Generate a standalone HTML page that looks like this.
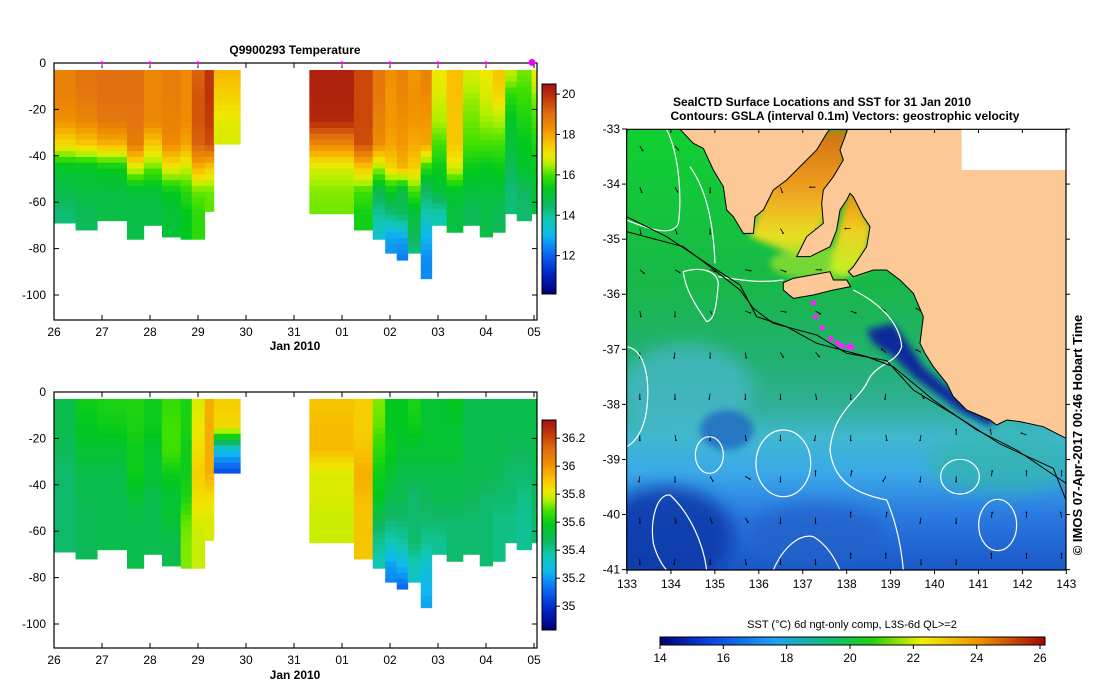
<!DOCTYPE html>
<html><head><meta charset="utf-8">
<style>
html,body{margin:0;padding:0;background:#fff;}
svg{display:block;font-family:"Liberation Sans",sans-serif;}
</style></head>
<body>
<svg id="root" width="1099" height="700" viewBox="0 0 1099 700" xmlns="http://www.w3.org/2000/svg">
<defs>
  <linearGradient id="cbV" x1="0" y1="1" x2="0" y2="0"></linearGradient>
  <linearGradient id="cbH" x1="0" y1="0" x2="1" y2="0">
    <stop offset="0" stop-color="#000070"/><stop offset="0.12" stop-color="#0a40e0"/>
    <stop offset="0.3" stop-color="#20a0f0"/><stop offset="0.45" stop-color="#10c070"/>
    <stop offset="0.55" stop-color="#20d010"/><stop offset="0.68" stop-color="#f0f000"/>
    <stop offset="0.83" stop-color="#f09000"/><stop offset="1" stop-color="#a00808"/>
  </linearGradient>
  <linearGradient id="sstBase" x1="0" y1="118" x2="0" y2="1440" gradientUnits="userSpaceOnUse">
    <stop offset="0" stop-color="#10d030"/><stop offset="0.35" stop-color="#18b848"/>
    <stop offset="0.52" stop-color="#22b070"/><stop offset="0.63" stop-color="#30b098"/>
    <stop offset="0.7" stop-color="#40b8d0"/><stop offset="0.78" stop-color="#3aa8e8"/>
    <stop offset="0.88" stop-color="#2a78e0"/><stop offset="1" stop-color="#1a58c8"/>
  </linearGradient>
  <linearGradient id="gulfS" x1="0" y1="118" x2="0" y2="520" gradientUnits="userSpaceOnUse">
    <stop offset="0" stop-color="#d07010"/><stop offset="0.45" stop-color="#f0a020"/>
    <stop offset="0.8" stop-color="#e8e020"/><stop offset="1" stop-color="#90e030"/>
  </linearGradient>
  <linearGradient id="gulfV" x1="0" y1="310" x2="0" y2="540" gradientUnits="userSpaceOnUse">
    <stop offset="0" stop-color="#f09010"/><stop offset="0.5" stop-color="#f0d020"/>
    <stop offset="1" stop-color="#c0f020"/>
  </linearGradient>
  <filter id="blur" x="-20%" y="-20%" width="140%" height="140%"><feGaussianBlur stdDeviation="25"/></filter>
  <filter id="blur2" x="-20%" y="-20%" width="140%" height="140%"><feGaussianBlur stdDeviation="10"/></filter>
  <clipPath id="mapClip"><rect x="80" y="118" width="1318" height="1322"/></clipPath>
</defs>

<!-- ===== Temperature section ===== -->
<g>
  <text x="295" y="54" font-size="12" font-weight="bold" text-anchor="middle">Q9900293  Temperature</text>
  <g id="tCells"></g>
  <rect x="54" y="63" width="483" height="257" fill="none" stroke="#000" stroke-width="1.2"/>
  <g id="tAxes"></g>
  <text x="295" y="350" font-size="12" font-weight="bold" text-anchor="middle">Jan 2010</text>
  <rect x="542" y="84" width="14" height="210" fill="url(#cbV)" stroke="#000"/>
  <g id="tCbTicks"></g>
</g>

<!-- ===== Salinity section ===== -->
<g>
  <g id="sCells"></g>
  <rect x="54" y="392" width="483" height="256" fill="none" stroke="#000" stroke-width="1.2"/>
  <g id="sAxes"></g>
  <text x="295" y="679" font-size="12" font-weight="bold" text-anchor="middle">Jan 2010</text>
  <rect x="542" y="420" width="14" height="210" fill="url(#cbV)" stroke="#000"/>
  <g id="sCbTicks"></g>
</g>

<!-- ===== Map ===== -->
<g>
  <text x="822" y="106" font-size="12" font-weight="bold" text-anchor="middle">SealCTD Surface Locations and SST for 31 Jan 2010</text>
  <text x="845" y="120" font-size="12" font-weight="bold" text-anchor="middle">Contours: GSLA (interval 0.1m) Vectors: geostrophic velocity</text>
  <g transform="translate(600,90) scale(0.33333)">
    <g clip-path="url(#mapClip)">
      <rect x="80" y="118" width="1318" height="1322" fill="url(#sstBase)"/>
      <ellipse cx="260" cy="900" rx="200" ry="140" fill="#48b8d0" opacity="0.7" filter="url(#blur)"/>
      <ellipse cx="1200" cy="1120" rx="220" ry="90" fill="#30b8a0" opacity="0.6" filter="url(#blur)"/>
      <ellipse cx="200" cy="1340" rx="200" ry="150" fill="#1038a8" opacity="0.85" filter="url(#blur)"/>
      <ellipse cx="650" cy="1330" rx="200" ry="90" fill="#2060c8" opacity="0.7" filter="url(#blur)"/>
      <ellipse cx="380" cy="1020" rx="80" ry="60" fill="#1850c0" opacity="0.6" filter="url(#blur2)"/>
      <ellipse cx="660" cy="520" rx="150" ry="50" fill="#90e030" opacity="0.8" filter="url(#blur2)"/>
      <polygon points="450,440 500,300 650,150 690,118 745,118 720,300 660,420 590,500 500,460" fill="url(#gulfS)" filter="url(#blur2)"/>
      <polygon points="700,480 740,320 760,300 815,420 790,520 730,560 690,540" fill="url(#gulfV)" filter="url(#blur2)"/>
      <polygon points="800,720 880,700 930,770 970,830 1040,890 1110,940 1185,990 1170,1010 1080,965 1000,905 940,860 880,800 820,760" fill="#0a2a9a" filter="url(#blur2)"/>
      <g id="arrows"></g>
      <g fill="none" stroke="#fff" stroke-width="1.2" vector-effect="non-scaling-stroke">
        <path vector-effect="non-scaling-stroke" d="M200,118 C240,200 245,330 235,400 C220,440 150,420 80,390"/>
        <path vector-effect="non-scaling-stroke" d="M270,230 C320,300 340,400 345,520"/>
        <path vector-effect="non-scaling-stroke" d="M250,545 C300,530 350,540 355,580 C350,640 345,690 320,695 C290,650 255,600 250,545 Z"/>
        <path vector-effect="non-scaling-stroke" d="M355,560 C420,570 480,580 550,570"/>
        <path vector-effect="non-scaling-stroke" d="M760,600 C840,640 900,700 905,770 C890,820 830,820 805,870 C780,930 700,960 690,1080 C700,1170 760,1210 860,1230 C890,1300 905,1380 910,1440"/>
        <ellipse vector-effect="non-scaling-stroke" cx="328" cy="1095" rx="42" ry="55"/>
        <ellipse vector-effect="non-scaling-stroke" cx="550" cy="1120" rx="82" ry="100"/>
        <ellipse vector-effect="non-scaling-stroke" cx="1080" cy="1160" rx="58" ry="52"/>
        <ellipse vector-effect="non-scaling-stroke" cx="1193" cy="1305" rx="57" ry="77"/>
        <path vector-effect="non-scaling-stroke" d="M80,770 C140,780 150,880 140,960 C130,1030 100,1060 80,1070"/>
        <path vector-effect="non-scaling-stroke" d="M320,1440 C310,1360 270,1270 210,1215 C170,1210 150,1290 160,1360 C170,1400 190,1430 200,1440"/>
        <path vector-effect="non-scaling-stroke" d="M520,1440 C550,1370 600,1330 640,1340 C690,1370 710,1420 720,1440"/>
      </g>
      <g fill="none" stroke="#000" stroke-width="1">
        <path vector-effect="non-scaling-stroke" d="M80,380 L200,440 L320,520 L420,585 L470,680 L560,710 L650,760 L800,800 L880,830 L1000,930 L1130,1020 L1250,1080 L1398,1180"/>
        <path vector-effect="non-scaling-stroke" d="M80,425 L250,470 L330,530 L420,600 L460,655 L520,700 L650,735 L740,790 L860,812 L940,900 L1080,985 L1200,1062 L1360,1135 L1398,1230"/>
      </g>
      <path d="M240,118 L280,160 L310,175 L340,240 L370,290 L380,360 L400,380 L430,430 L460,430 L465,380 L490,360 L520,300 L560,270 L600,230 L650,180 L680,130 L690,118 L742,118 L735,140 L720,180 L730,210 L700,260 L670,300 L665,340 L670,400 L620,440 L600,480 L590,500 L630,500 L690,470 L710,420 L720,360 L740,330 L750,310 L760,320 L790,380 L810,410 L800,470 L780,500 L760,530 L745,545 L760,560 L820,540 L860,540 L900,570 L940,610 L970,680 L960,760 L975,790 L1000,830 L1040,880 L1060,920 L1100,960 L1170,990 L1190,1005 L1220,990 L1260,995 L1330,1010 L1398,1045 L1398,118 Z" fill="#fcc896" stroke="#000" stroke-width="1" vector-effect="non-scaling-stroke"/>
      <path d="M550,578 L580,565 L690,545 L700,570 L740,570 L752,590 L700,600 L640,615 L580,625 L550,600 Z" fill="#fcc896" stroke="#000" stroke-width="1" vector-effect="non-scaling-stroke"/>
      <rect x="1085" y="118" width="313" height="122" fill="#fff"/>
      <g id="dots"></g>
    </g>
    <rect x="80" y="118" width="1318" height="1322" fill="none" stroke="#000" stroke-width="1.2" vector-effect="non-scaling-stroke"/>
  </g>
  <g id="mapAxes"></g>
  <text transform="translate(1082,435) rotate(-90)" font-size="13" font-weight="bold" text-anchor="middle">© IMOS 07-Apr-2017 00:46 Hobart Time</text>
  <text x="852" y="628" font-size="11" text-anchor="middle">SST (°C) 6d ngt-only comp, L3S-6d QL&gt;=2</text>
  <rect x="660" y="637" width="385" height="8" fill="url(#cbH)" stroke="#000"/>
  <g id="hCb"></g>
</g>
</svg>

<script>
// ---- Section data ----
const dayLabels = ["26","27","28","29","30","31","01","02","03","04","05"];
const depthTicks = [0,-20,-40,-60,-80,-100];
const profileDepths = [5,15,25,35,45,55,65,75,85,95];
const colStart = [0,0.45,0.9,1.52,1.87,2.25,2.64,2.87,3.14,3.33,5.32,6.25,6.64,6.9,7.14,7.37,7.64,7.87,8.18,8.52,8.87,9.14,9.4,9.64,9.95];
const colEnd   = [0.45,0.9,1.52,1.87,2.25,2.64,2.87,3.14,3.33,3.88,6.25,6.64,6.9,7.14,7.37,7.64,7.87,8.18,8.52,8.87,9.14,9.4,9.64,9.95,10.06];
const colMaxDepth = [69,72,68,76,70,75,76,76,64,35,65,72,76,82,85,82,93,70,73,70,75,73,65,68,65];
const tempProfiles = [
 [18.6,18.6,18.3,17.2,15.2,14.8,14.3],
 [18.9,18.8,18.5,17.5,15.2,14.9,14.6],
 [19,19,18.8,17.8,15.4,14.9,14.8],
 [19,19,18.9,18.7,16.8,15,14.8,14.8],
 [18.5,18.5,18.5,17.5,16.2,15,14.8],
 [18.7,18.7,18.6,18.4,17,15.4,15,15],
 [18.4,18.4,18.4,18,16.7,15.8,15.3,15.3],
 [19.2,19.4,19.4,19.2,17.8,16.2,15.8,15.8],
 [19.9,19.9,19.8,19.5,17.5,16.2,16.1],
 [17.7,17.3,16.9,16.8],
 [20.2,20.2,20.1,18.5,16.8,16.3,16.2],
 [19.6,19.6,19.6,19.5,17.5,16,15.5,15.5],
 [18.8,18.8,18.6,18.4,16.5,14.8,14,13.4],
 [18.3,18.2,18.2,18,17.3,15.4,14.3,12.8,12.5],
 [18.6,18.5,18.3,18.2,17.8,14.8,14.6,12.8,12.3],
 [18.2,18.3,18.2,17.9,17.4,16,14.9,14.6,14],
 [18.6,18.4,18.2,18,15.8,14.5,13.8,13,12.5,12.5],
 [17,16.8,16.5,16,15.4,15,13.8],
 [17.6,17.6,17.5,17.5,16.8,15.2,14.9,14.9],
 [16.8,16.4,16.2,16,15.4,15,14.6],
 [17,16.8,16.4,16,15.3,15,14.8,14.8],
 [17.5,17.2,16.5,16,15.4,15,14.6,14.6],
 [16.6,15.7,15.2,15,14.6,14.3,14.3],
 [16.2,15.9,15.6,15.3,15.2,14.5,14.4],
 [17,16.3,16,15.6,15.3,15,15]
];
const salProfiles = [
 [35.5,35.5,35.48,35.45,35.45,35.45,35.45],
 [35.6,35.58,35.55,35.5,35.5,35.48,35.48],
 [35.62,35.6,35.55,35.5,35.5,35.5,35.5],
 [35.63,35.62,35.6,35.6,35.55,35.5,35.5,35.5],
 [35.6,35.6,35.55,35.55,35.5,35.5,35.5],
 [35.66,35.68,35.68,35.6,35.55,35.55,35.5,35.5],
 [35.62,35.62,35.6,35.6,35.62,35.7,35.72,35.72],
 [35.8,35.82,35.85,35.88,35.85,35.8,35.78,35.78],
 [35.95,35.95,35.95,35.95,35.85,35.8,35.8],
 [35.88,35.86,35.28,35.05],
 [35.9,35.92,35.92,35.8,35.8,35.78,35.78],
 [35.88,35.88,35.9,35.95,35.92,35.9,35.9,35.9],
 [35.72,35.7,35.65,35.6,35.58,35.5,35.4,35.35],
 [35.58,35.58,35.6,35.55,35.5,35.45,35.35,35.2,35.15],
 [35.58,35.58,35.55,35.5,35.5,35.45,35.38,35.25,35.1],
 [35.62,35.6,35.55,35.5,35.45,35.45,35.45,35.35,35.3],
 [35.55,35.55,35.55,35.5,35.48,35.45,35.4,35.3,35.25,35.2],
 [35.55,35.55,35.55,35.5,35.5,35.45,35.4],
 [35.58,35.55,35.55,35.5,35.5,35.45,35.45,35.45],
 [35.5,35.5,35.5,35.5,35.48,35.45,35.45],
 [35.5,35.5,35.5,35.5,35.45,35.45,35.45,35.45],
 [35.5,35.5,35.5,35.48,35.45,35.42,35.42,35.42],
 [35.5,35.5,35.48,35.45,35.45,35.42,35.42],
 [35.5,35.5,35.48,35.45,35.42,35.4,35.4],
 [35.52,35.5,35.5,35.5,35.48,35.45,35.45]
];
const tempCbTicks = [20,18,16,14,12];
const salCbTicks = ["36.2","36","35.8","35.6","35.4","35.2","35"];
const surfaceDays = [1,2,3,6,7,8,9,10];
// ---- Map data ----
const lonTicks = [133,134,135,136,137,138,139,140,141,142,143];
const latTicks = [-33,-34,-35,-36,-37,-38,-39,-40,-41];
const sstTicks = [14,16,18,20,22,24,26];
const ctdLon = [137.25,137.3,137.45,137.65,137.8,137.9,138.05,138.1,138.12];
const ctdLat = [-36.15,-36.4,-36.6,-36.8,-36.88,-36.93,-36.95,-36.93,-36.96];
const vecAngles = [
 [-60,-50,-40,-90,180,180,180,180,180,180,180,180,180],
 [-70,-60,-90,-80,-70,180,190,170,180,180,180,180,180],
 [-80,-70,-90,-100,-60,-30,180,170,160,150,150,150,150],
 [-40,-30,-20,-10,-20,0,-10,150,150,150,150,150,150],
 [-80,-90,-60,-20,-10,-30,-20,150,150,160,150,150,150],
 [-90,-100,-90,-80,-60,-50,-20,140,150,150,150,150,150],
 [-90,-90,-100,-90,-90,-80,-90,-100,-60,150,150,150,150],
 [-90,-80,-90,-80,-90,-100,-90,-80,-100,90,100,160,150],
 [-100,-90,-60,-30,-90,90,80,-120,-100,-90,80,90,90],
 [-90,-80,-70,-60,-90,-90,90,80,-100,-90,80,90,100],
 [-90,-100,-90,-80,-90,-90,90,90,-90,-90,90,90,90]
];

const NS = "http://www.w3.org/2000/svg";
function mk(tag, attrs, parent){const e=document.createElementNS(NS,tag);for(const k in attrs)e.setAttribute(k,attrs[k]);parent.appendChild(e);return e;}

const cmapV = [10.1,11,12,13,13.8,14.5,15.3,16,16.5,17,17.6,18.3,19,19.7,20.5];
const cmapC = ["#000070","#0020c0","#0a60f0","#10b8f0","#10c8b0","#10b860","#00c820","#40e000","#b0f000","#f0e800","#f8c000","#f09000","#e07010","#c84008","#a01010"];
function hex2rgb(h){return [parseInt(h.substr(1,2),16),parseInt(h.substr(3,2),16),parseInt(h.substr(5,2),16)];}
function cmap(v){
  if(v<=cmapV[0])return cmapC[0];
  for(let i=1;i<cmapV.length;i++){ if(v<=cmapV[i]){const f=(v-cmapV[i-1])/(cmapV[i]-cmapV[i-1]);const a=hex2rgb(cmapC[i-1]),b=hex2rgb(cmapC[i]);return "rgb("+a.map((x,j)=>Math.round(x+(b[j]-x)*f)).join(",")+")";}}
  return cmapC[cmapC.length-1];
}
const cbV=document.getElementById("cbV");
cmapV.forEach((v,i)=>mk("stop",{offset:((v-10.1)/10.4).toFixed(3),"stop-color":cmapC[i]},cbV));
function salToT(s){return 10.1+(s-34.83)/(36.33-34.83)*10.4;}

function xDay(d){return 54+d*48;}
function interp(prof,d){
  if(d<=profileDepths[0])return prof[0];
  for(let i=1;i<prof.length;i++){ if(d<=profileDepths[i]){const f=(d-profileDepths[i-1])/(profileDepths[i]-profileDepths[i-1]);return prof[i-1]+(prof[i]-prof[i-1])*f;}}
  return prof[prof.length-1];
}
function drawSection(gid, y0, profiles, conv){
  const g=document.getElementById(gid);
  const yD=d=>y0+d*2.32;
  for(let c=0;c<colStart.length;c++){
    const step=2.5;
    for(let d=3;d<colMaxDepth[c];d+=step){
      const dd=Math.min(step,colMaxDepth[c]-d);
      const v=conv(interp(profiles[c],d+dd/2));
      const r=mk("rect",{x:xDay(colStart[c]).toFixed(2),y:yD(d).toFixed(2),width:(xDay(colEnd[c])-xDay(colStart[c])+0.4).toFixed(2),height:(dd*2.32+0.4).toFixed(2),fill:cmap(v)},g);
      
      
    }
  }
}
drawSection("tCells",63,tempProfiles,v=>v);
drawSection("sCells",392,salProfiles,salToT);

function drawAxes(gid,y0,bottom,markers){
  const g=document.getElementById(gid);
  dayLabels.forEach((lab,i)=>{
    const x=xDay(i);
    mk("line",{x1:x,y1:bottom,x2:x,y2:bottom-5,stroke:"#000"},g);
    mk("line",{x1:x,y1:y0,x2:x,y2:y0+5,stroke:"#000"},g);
    const t=mk("text",{x:x,y:bottom+16,"font-size":12,"text-anchor":"middle"},g);t.textContent=lab;
    
    
  });
  depthTicks.forEach(d=>{
    const y=y0-d*2.32;
    mk("line",{x1:54,y1:y,x2:59,y2:y,stroke:"#000"},g);
    mk("line",{x1:537,y1:y,x2:532,y2:y,stroke:"#000"},g);
    const t=mk("text",{x:46,y:y+4,"font-size":12,"text-anchor":"end"},g);t.textContent=d;
    
    
  });
  if(markers){surfaceDays.forEach(d=>{
    const x=xDay(d)-(d===10?2:0);
    const m=mk("text",{x:x,y:y0+4,"font-size":d===10?16:10,fill:"#f000f0","text-anchor":"middle","font-weight":"bold"},g);
    m.textContent=d===10?"●":"+";
    
    
  });}
}
drawAxes("tAxes",63,320,true);
drawAxes("sAxes",392,648,false);

const tcb=document.getElementById("tCbTicks");
tempCbTicks.forEach(v=>{const y=294-(v-10.1)/10.4*210;
  mk("line",{x1:556,y1:y,x2:560,y2:y,stroke:"#000"},tcb);
  const t=mk("text",{x:562,y:y+4,"font-size":12},tcb);t.textContent=v;
  
  });
const scb=document.getElementById("sCbTicks");
salCbTicks.forEach(v=>{const y=630-(salToT(parseFloat(v))-10.1)/10.4*210;
  mk("line",{x1:556,y1:y,x2:560,y2:y,stroke:"#000"},scb);
  const t=mk("text",{x:562,y:y+4,"font-size":12},scb);t.textContent=v;
  
  });

function lonZ(l){return 80+(l-133)*131.8;}
function latZ(a){return 118+(-33-a)*165.25;}
const ag=document.getElementById("arrows");
vecAngles.forEach((row,r)=>row.forEach((ang,c)=>{
  const lon=133.3+c*0.8, lat=-33.3-r*0.75;
  const x=lonZ(lon), y=latZ(lat), L=16, a=ang*Math.PI/180;
  const x2=x+L*Math.cos(a), y2=y-L*Math.sin(a);
  const p=mk("line",{x1:x,y1:y,x2:x2,y2:y2,stroke:"#000","stroke-width":2.5},ag);
  
  
  mk("circle",{cx:x2,cy:y2,r:2.5,fill:"#000"},ag);
}));
const dg=document.getElementById("dots");
ctdLon.forEach((lo,i)=>{
  const d=mk("circle",{cx:lonZ(lo),cy:latZ(ctdLat[i]),r:8,fill:"#ff20ff"},dg);
  
  
});

const ma=document.getElementById("mapAxes");
lonTicks.forEach(l=>{const x=627+(l-133)*43.93;
  mk("line",{x1:x,y1:569,x2:x,y2:574,stroke:"#000"},ma);
  mk("line",{x1:x,y1:129,x2:x,y2:133,stroke:"#000"},ma);
  const t=mk("text",{x:x,y:588,"font-size":12,"text-anchor":"middle"},ma);t.textContent=l;
  
  });
latTicks.forEach(a=>{const y=129+(-33-a)*55.08;
  mk("line",{x1:622,y1:y,x2:627,y2:y,stroke:"#000"},ma);
  mk("line",{x1:1066,y1:y,x2:1070,y2:y,stroke:"#000"},ma);
  const t=mk("text",{x:620,y:y+4,"font-size":12,"text-anchor":"end"},ma);t.textContent=a;
  
  });
const hc=document.getElementById("hCb");
sstTicks.forEach(v=>{const x=660+(v-14)/12*380;
  mk("line",{x1:x,y1:645,x2:x,y2:649,stroke:"#000"},hc);
  const t=mk("text",{x:x,y:662,"font-size":12,"text-anchor":"middle"},hc);t.textContent=v;
  
  });
</script>
</body></html>
